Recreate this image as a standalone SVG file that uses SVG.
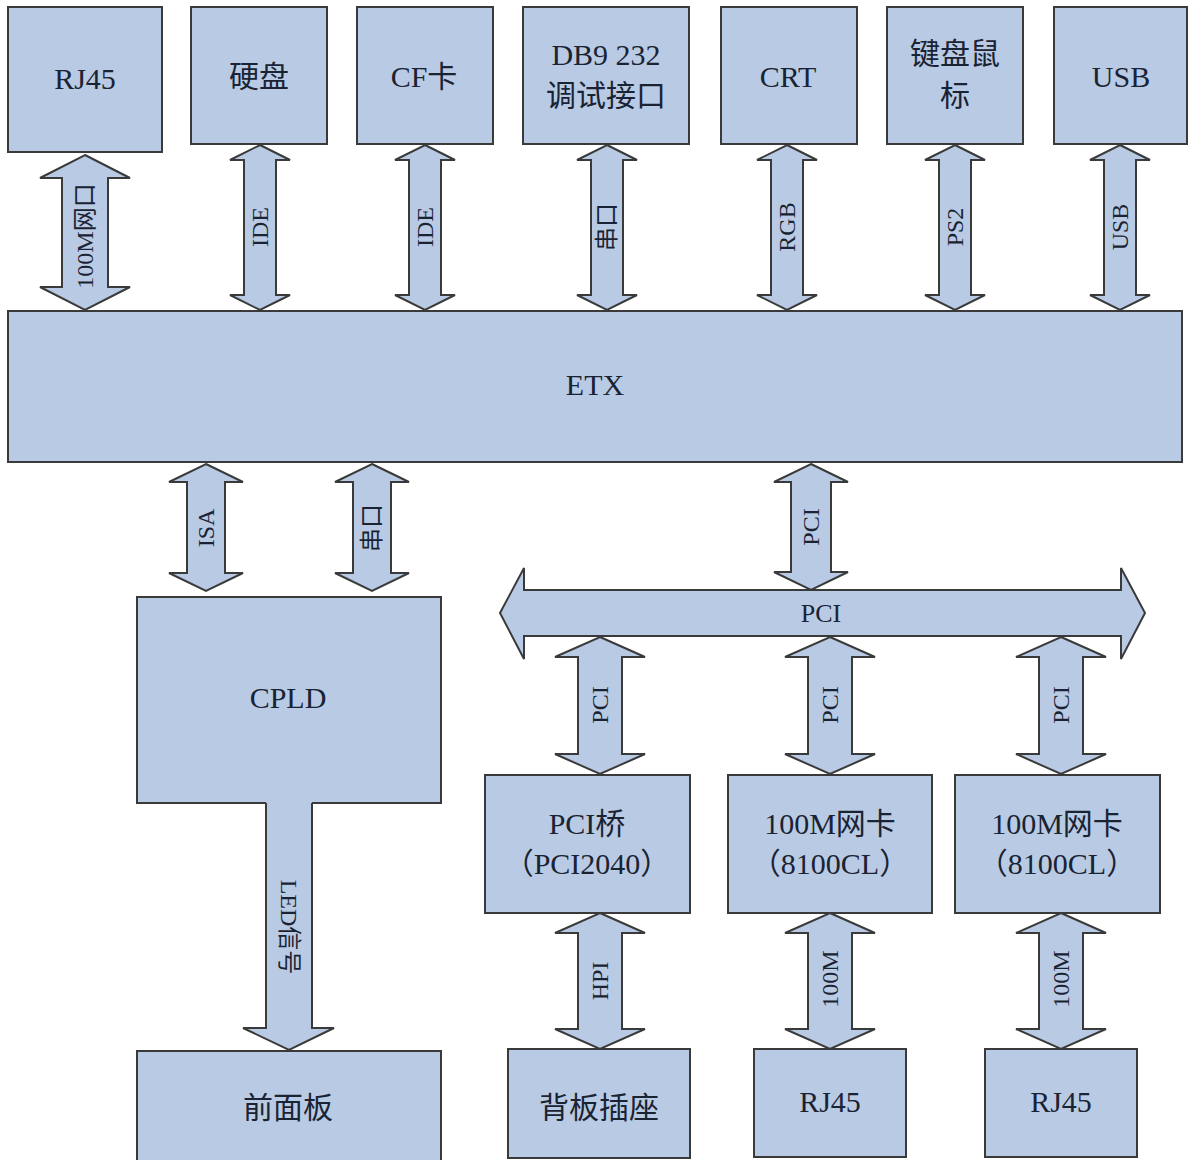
<svg xmlns="http://www.w3.org/2000/svg" width="1189" height="1160" viewBox="0 0 1189 1160">
<style>
.box{fill:#b9cbe4;stroke:#3a3a3a;stroke-width:2}
.arr{fill:#b9cbe4;stroke:#3a3a3a;stroke-width:2;stroke-linejoin:miter}
.fillonly{fill:#b9cbe4;stroke:none}
.line{fill:none;stroke:#3a3a3a;stroke-width:2}
.t{font-family:"Liberation Serif","Noto Sans CJK SC",serif;fill:#1a2333;text-anchor:middle}
.big{font-size:30px}
.sm{font-size:24px}
</style>
<rect width="1189" height="1160" fill="#ffffff"/>
<g id="n-rj45-top"><rect class="box" x="8" y="7" width="154" height="145"/><text class="t big" x="85" y="89">RJ45</text></g>
<g id="n-hdd"><rect class="box" x="191" y="7" width="136" height="137"/><text class="t big" x="259" y="87">硬盘</text></g>
<g id="n-cf"><rect class="box" x="357" y="7" width="136" height="137"/><text class="t big" x="424" y="87">CF卡</text></g>
<g id="n-db9"><rect class="box" x="523" y="7" width="166" height="137"/><text class="t big" x="606" y="65">DB9 232</text><text class="t big" x="606" y="106">调试接口</text></g>
<g id="n-crt"><rect class="box" x="721" y="7" width="136" height="137"/><text class="t big" x="788" y="87">CRT</text></g>
<g id="n-kbd"><rect class="box" x="887" y="7" width="136" height="137"/><text class="t big" x="955" y="64">键盘鼠</text><text class="t big" x="955" y="106">标</text></g>
<g id="n-usb"><rect class="box" x="1054" y="7" width="133" height="137"/><text class="t big" x="1121" y="87">USB</text></g>
<g id="n-etx"><rect class="box" x="8" y="311" width="1174" height="151"/><text class="t big" x="595" y="395">ETX</text></g>
<g id="n-cpld"><rect class="box" x="137" y="597" width="304" height="206"/><text class="t big" x="288" y="708">CPLD</text></g>
<g id="n-front"><rect class="box" x="137" y="1051" width="304" height="130"/><text class="t big" x="288" y="1118">前面板</text></g>
<g id="n-pcibridge"><rect class="box" x="485" y="775" width="205" height="138"/><text class="t big" x="587" y="834">PCI桥</text><text class="t big" x="587" y="874">（PCI2040）</text></g>
<g id="n-nic1"><rect class="box" x="728" y="775" width="204" height="138"/><text class="t big" x="830" y="834">100M网卡</text><text class="t big" x="830" y="874">（8100CL）</text></g>
<g id="n-nic2"><rect class="box" x="955" y="775" width="205" height="138"/><text class="t big" x="1057" y="834">100M网卡</text><text class="t big" x="1057" y="874">（8100CL）</text></g>
<g id="n-backplane"><rect class="box" x="508" y="1049" width="182" height="109"/><text class="t big" x="599" y="1118">背板插座</text></g>
<g id="n-rj45-b1"><rect class="box" x="754" y="1049" width="152" height="108"/><text class="t big" x="830" y="1112">RJ45</text></g>
<g id="n-rj45-b2"><rect class="box" x="985" y="1049" width="152" height="108"/><text class="t big" x="1061" y="1112">RJ45</text></g>
<g id="connectors">
<polygon class="arr" points="85,155 130,178 108,178 108,287 130,287 85,310 40,287 62,287 62,178 40,178"/>
<polygon class="arr" points="260,145 290,160 276,160 276,295 290,295 260,310 230,295 244,295 244,160 230,160"/>
<polygon class="arr" points="425,145 455,160 441,160 441,295 455,295 425,310 395,295 409,295 409,160 395,160"/>
<polygon class="arr" points="607,145 637,160 623,160 623,295 637,295 607,310 577,295 591,295 591,160 577,160"/>
<polygon class="arr" points="787,145 817,160 803,160 803,295 817,295 787,310 757,295 771,295 771,160 757,160"/>
<polygon class="arr" points="955,145 985,160 971,160 971,295 985,295 955,310 925,295 939,295 939,160 925,160"/>
<polygon class="arr" points="1120,145 1150,160 1136,160 1136,295 1150,295 1120,310 1090,295 1104,295 1104,160 1090,160"/>
<polygon class="arr" points="206,464 243,482 225,482 225,573 243,573 206,591 169,573 187,573 187,482 169,482"/>
<polygon class="arr" points="372,464 409,482 391,482 391,573 409,573 372,591 335,573 353,573 353,482 335,482"/>
<polygon class="arr" points="811,464 848,482 831,482 831,572 848,572 811,590 774,572 791,572 791,482 774,482"/>
<polygon class="arr" points="500,613 524,568 524,590 1121,590 1121,568 1145,613 1121,659 1121,636 524,636 524,659"/>
<polygon class="arr" points="600,637 645,657 622,657 622,754 645,754 600,774 555,754 578,754 578,657 555,657"/>
<polygon class="arr" points="830,637 875,657 852,657 852,754 875,754 830,774 785,754 808,754 808,657 785,657"/>
<polygon class="arr" points="1061,637 1106,657 1083,657 1083,754 1106,754 1061,774 1016,754 1039,754 1039,657 1016,657"/>
<polygon class="arr" points="600,913 645,933 622,933 622,1029 645,1029 600,1049 555,1029 578,1029 578,933 555,933"/>
<polygon class="arr" points="830,913 875,933 852,933 852,1029 875,1029 830,1049 785,1029 808,1029 808,933 785,933"/>
<polygon class="arr" points="1061,913 1106,933 1083,933 1083,1029 1106,1029 1061,1049 1016,1029 1039,1029 1039,933 1016,933"/>
<polygon class="fillonly" points="266,800 312,800 312,1028 334,1028 289,1050 243,1028 266,1028"/>
<polyline class="line" points="266,803 266,1028 243,1028 289,1050 334,1028 312,1028 312,803"/>
<text class="t sm" transform="translate(85,236) rotate(-90)" y="8">100M网口</text>
<text class="t sm" transform="translate(260,227) rotate(-90)" y="8">IDE</text>
<text class="t sm" transform="translate(425,227) rotate(-90)" y="8">IDE</text>
<text class="t sm" transform="translate(607,227) rotate(-90)" y="8">串口</text>
<text class="t sm" transform="translate(787,227) rotate(-90)" y="8">RGB</text>
<text class="t sm" transform="translate(955,227) rotate(-90)" y="8">PS2</text>
<text class="t sm" transform="translate(1120,227) rotate(-90)" y="8">USB</text>
<text class="t sm" transform="translate(206,528) rotate(-90)" y="8">ISA</text>
<text class="t sm" transform="translate(372,528) rotate(-90)" y="8">串口</text>
<text class="t sm" transform="translate(811,527) rotate(-90)" y="8">PCI</text>
<text class="t" style="font-size:26px" x="821" y="622">PCI</text>
<text class="t sm" transform="translate(600,705) rotate(-90)" y="8">PCI</text>
<text class="t sm" transform="translate(830,705) rotate(-90)" y="8">PCI</text>
<text class="t sm" transform="translate(1061,705) rotate(-90)" y="8">PCI</text>
<text class="t sm" transform="translate(600,981) rotate(-90)" y="8">HPI</text>
<text class="t sm" transform="translate(830,979) rotate(-90)" y="8">100M</text>
<text class="t sm" transform="translate(1061,979) rotate(-90)" y="8">100M</text>
<text class="t sm" transform="translate(289,927) rotate(90)" y="8">LED信号</text>
</g>
</svg>
